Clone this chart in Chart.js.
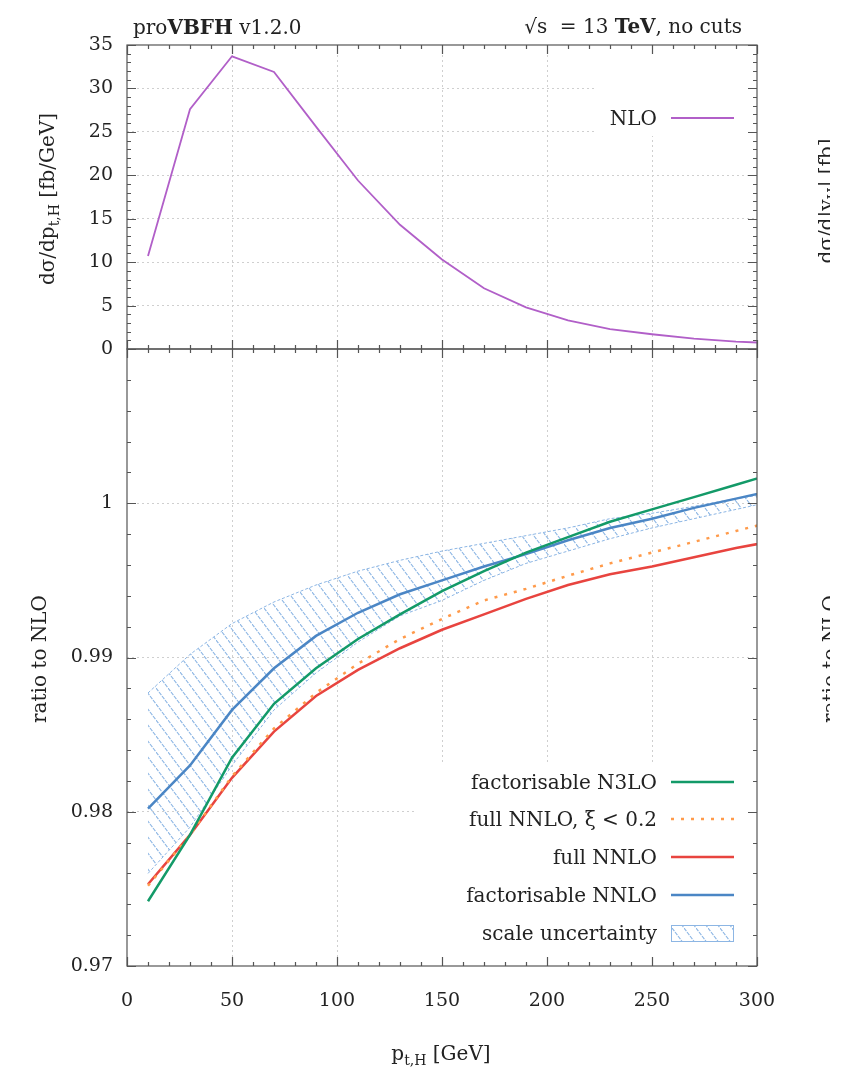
<!DOCTYPE html>
<html>
<head>
<meta charset="utf-8">
<script src="https://cdn.jsdelivr.net/npm/chart.js"></script>
<style>
  body { margin: 0; background: #fff; }
  #wrap { width: 848px; height: 1068px; }
</style>
</head>
<body>
<div id="wrap"><canvas id="myChart" width="848" height="1068"></canvas></div>
<script>
// Centros de bin en p_t,H [GeV]
const ptH = [10, 30, 50, 70, 90, 110, 130, 150, 170, 190, 210, 230, 250, 270, 290, 310];

// Panel superior: dσ/dp_t,H a NLO [fb/GeV]
const nlo = [10.7, 27.6, 33.7, 31.9, 25.6, 19.4, 14.3, 10.3, 7.0, 4.8, 3.3, 2.3, 1.7, 1.2, 0.85, 0.65];

// Panel inferior: cociente respecto a NLO
const fact_N3LO = [0.9742, 0.9785, 0.9835, 0.9870, 0.9893, 0.9912, 0.9928, 0.9943, 0.9956, 0.9968, 0.9978, 0.9988, 0.9996, 1.0004, 1.0012, 1.0020];
const full_NNLO_xi = [0.9752, 0.9785, 0.9823, 0.9854, 0.9877, 0.9896, 0.9912, 0.9925, 0.9937, 0.99445, 0.9953, 0.9961, 0.9968, 0.9975, 0.9982, 0.9989];
const full_NNLO = [0.9753, 0.9785, 0.9822, 0.9852, 0.9875, 0.9892, 0.9906, 0.9918, 0.9928, 0.9938, 0.9947, 0.9954, 0.9959, 0.9965, 0.9971, 0.9976];
const fact_NNLO = [0.9802, 0.9830, 0.9866, 0.9893, 0.9914, 0.9929, 0.9941, 0.9950, 0.9959, 0.9967, 0.9976, 0.9984, 0.9990, 0.9997, 1.0003, 1.0009];

// Banda de incertidumbre de escala (factorisable NNLO)
const scale_up = [0.9877, 0.9902, 0.9922, 0.9936, 0.9947, 0.9956, 0.9963, 0.9969, 0.9974, 0.9979, 0.9984, 0.9990, 0.99935, 0.9998, 1.0003, 1.0007];
const scale_down = [0.9760, 0.9790, 0.9830, 0.9866, 0.9890, 0.9910, 0.9927, 0.9937, 0.9950, 0.9961, 0.9969, 0.9977, 0.9984, 0.9990, 0.9996, 1.0002];

// Rangos de los ejes
const rangoX = [0, 300];
const rangoSup = [0, 35];
const rangoInf = [0.97, 1.01];

const serif = "'DejaVu Serif', serif";
const colores = {
  nlo: "#b15fc8",
  n3lo: "#139a68",
  xi: "#ff9a4a",
  nnlo: "#e8443f",
  fact: "#4b86c5",
  banda: "#8db6e4",
};

const toXY = (ys) => ptH.map((x, i) => ({ x, y: ys[i] }));

const ctx = document.getElementById("myChart").getContext("2d");

// Rayado diagonal para la banda
function rayado(color) {
  const c = document.createElement("canvas");
  c.width = 12;
  c.height = 16;
  const g = c.getContext("2d");
  g.strokeStyle = color;
  g.lineWidth = 1.1;
  g.setLineDash([4, 1]);
  g.beginPath();
  g.moveTo(-3, -4);
  g.lineTo(15, 20);
  g.stroke();
  return ctx.createPattern(c, "repeat");
}
const patronBanda = rayado(colores.banda);

// Texto con trozos (normal, negrita, subindice)
function texto(c, partes, x, y, align) {
  let total = 0;
  partes.forEach((p) => {
    c.font = p[1];
    total += c.measureText(p[0]).width;
  });
  let cx = align === "right" ? x - total : align === "center" ? x - total / 2 : x;
  c.textAlign = "left";
  c.textBaseline = "alphabetic";
  partes.forEach((p) => {
    c.font = p[1];
    c.fillText(p[0], cx, y + (p[2] || 0));
    cx += c.measureText(p[0]).width;
  });
}

function textoVertical(c, partes, x, y) {
  c.save();
  c.translate(x, y);
  c.rotate(-Math.PI / 2);
  texto(c, partes, 0, 0, "center");
  c.restore();
}

const f20 = "20px " + serif;
const f20b = "bold 20px " + serif;
const f14 = "14px " + serif;

const tituloSup = [["dσ/dp", f20], ["t,H", f14, 5], [" [fb/GeV]", f20]];
const tituloInf = [["ratio to NLO", f20]];
const tituloSupVecino = [["dσ/d|y", f20], ["H", f14, 5], ["| [fb]", f20]];

// Leyendas, marcos y marcas de los ejes
const decoracion = {
  id: "decoracion",
  afterDatasetsDraw(chart) {
    const c = chart.ctx;
    const ds = chart.data.datasets;
    c.save();
    // leyenda panel superior
    c.fillStyle = "#fff";
    c.fillRect(596, 46, 160, 90);
    // leyenda panel inferior
    c.fillRect(415, 762, 341, 203);
    c.fillStyle = "#222";
    const muestra = (d, y) => {
      c.save();
      c.strokeStyle = d.borderColor;
      c.lineWidth = d.borderWidth;
      c.setLineDash(d.borderDash || []);
      c.beginPath();
      c.moveTo(671, y);
      c.lineTo(734, y);
      c.stroke();
      c.restore();
    };
    texto(c, [["NLO", f20]], 657, 125, "right");
    muestra(ds[0], 118);

    const filas = [782, 819, 857, 895];
    [1, 2, 3, 4].forEach((k, i) => {
      c.fillStyle = "#222";
      texto(c, [[ds[k].label, f20]], 657, filas[i] + 7, "right");
      muestra(ds[k], filas[i]);
    });
    c.fillStyle = "#222";
    texto(c, [["scale uncertainty", f20]], 657, 940, "right");
    c.fillStyle = patronBanda;
    c.fillRect(671, 925, 63, 17);
    c.strokeStyle = colores.banda;
    c.lineWidth = 1;
    c.strokeRect(671.5, 925.5, 62, 16);
    c.restore();
  },
  afterDraw(chart) {
    const c = chart.ctx;
    const sx = chart.scales.x;
    const paneles = [
      { s: chart.scales.yTop, menor: 1, mayor: 5 },
      { s: chart.scales.yBot, menor: 0.002, mayor: 0.01 },
    ];
    c.save();
    c.strokeStyle = "#555";
    c.lineWidth = 1.2;
    paneles.forEach(({ s, menor, mayor }) => {
      const top = s.top, bot = s.bottom;
      const L = chart.chartArea.left, R = chart.chartArea.right;
      c.strokeRect(L, top, R - L, bot - top);
      c.beginPath();
      // marcas en x (hacia dentro)
      for (let v = rangoX[0]; v <= rangoX[1]; v += 10) {
        const px = Math.round(sx.getPixelForValue(v)) + 0.5;
        const len = v % 50 === 0 ? 9 : 4;
        c.moveTo(px, top); c.lineTo(px, top + len);
        c.moveTo(px, bot); c.lineTo(px, bot - len);
      }
      // marcas en y
      const n = Math.round((s.max - s.min) / menor);
      for (let k = 0; k <= n; k++) {
        const v = s.min + k * menor;
        const py = Math.round(s.getPixelForValue(v)) + 0.5;
        const q = (v - s.min) / mayor;
        const len = Math.abs(q - Math.round(q)) < 1e-6 ? 9 : 4;
        c.moveTo(L, py); c.lineTo(L + len, py);
        c.moveTo(R, py); c.lineTo(R - len, py);
      }
      c.stroke();
    });

    // textos de cabecera y titulos de ejes
    c.fillStyle = "#222";
    texto(c, [["pro", f20], ["VBFH", f20b], [" v1.2.0", f20]], 133, 34, "left");
    texto(c, [["√s  = 13 ", f20], ["TeV", f20b], [", no cuts", f20]], 742, 33, "right");
    textoVertical(c, tituloSup, 54, 199);
    textoVertical(c, tituloInf, 46, 659);
    texto(c, [["p", f20], ["t,H", f14, 5], [" [GeV]", f20]], 441, 1060, "center");

    // borde de la figura vecina, recortado
    c.beginPath();
    c.rect(790, 0, 40, 1068);
    c.clip();
    textoVertical(c, tituloSupVecino, 833, 201);
    textoVertical(c, tituloInf, 837, 659);
    c.restore();
  },
};

const gridColor = (cx) =>
  cx.index === 0 || cx.index === cx.scale.ticks.length - 1 ? "rgba(0,0,0,0)" : "#cfcfcf";

const lineaComun = {
  pointRadius: 0,
  tension: 0,
  fill: false,
};

const fuenteTicks = { family: serif, size: 19 };

new Chart(ctx, {
  type: "line",
  data: {
    datasets: [
      {
        ...lineaComun,
        label: "NLO",
        data: toXY(nlo),
        borderColor: colores.nlo,
        borderWidth: 1.8,
        yAxisID: "yTop",
      },
      {
        ...lineaComun,
        label: "factorisable N3LO",
        data: toXY(fact_N3LO),
        borderColor: colores.n3lo,
        borderWidth: 2.5,
        yAxisID: "yBot",
        order: 1,
      },
      {
        ...lineaComun,
        label: "full NNLO, ξ < 0.2",
        data: toXY(full_NNLO_xi),
        borderColor: colores.xi,
        borderWidth: 2.5,
        borderDash: [3, 7],
        yAxisID: "yBot",
        order: 2,
      },
      {
        ...lineaComun,
        label: "full NNLO",
        data: toXY(full_NNLO),
        borderColor: colores.nnlo,
        borderWidth: 2.5,
        yAxisID: "yBot",
        order: 3,
      },
      {
        ...lineaComun,
        label: "factorisable NNLO",
        data: toXY(fact_NNLO),
        borderColor: colores.fact,
        borderWidth: 2.5,
        yAxisID: "yBot",
        order: 1,
      },
      {
        ...lineaComun,
        label: "scale uncertainty",
        data: toXY(scale_up),
        borderColor: colores.banda,
        borderWidth: 1,
        borderDash: [3, 2],
        backgroundColor: patronBanda,
        fill: "+1",
        yAxisID: "yBot",
        order: 10,
      },
      {
        ...lineaComun,
        label: "scale uncertainty (low)",
        data: toXY(scale_down),
        borderColor: colores.banda,
        borderWidth: 1,
        borderDash: [3, 2],
        yAxisID: "yBot",
        order: 10,
      },
    ],
  },
  options: {
    responsive: false,
    animation: false,
    layout: { padding: { left: 0, right: 91, top: 45, bottom: 0 } },
    plugins: {
      legend: { display: false },
      tooltip: { enabled: false },
    },
    scales: {
      x: {
        type: "linear",
        min: rangoX[0],
        max: rangoX[1],
        ticks: { stepSize: 50, padding: 24, color: "#222", font: fuenteTicks, maxRotation: 0, autoSkip: false },
        grid: { color: gridColor, drawTicks: false },
        border: { display: false, dash: [2, 3] },
        afterFit: (s) => { s.height = 102; },
      },
      yBot: {
        type: "linear",
        position: "left",
        stack: "paneles",
        stackWeight: 617,
        min: rangoInf[0],
        max: rangoInf[1],
        ticks: {
          stepSize: 0.01,
          padding: 14,
          color: "#222",
          autoSkip: false,
          font: fuenteTicks,
          callback: (v) => (Math.abs(v - rangoInf[1]) < 1e-9 ? "" : String(+v.toFixed(2))),
        },
        grid: { color: gridColor, drawTicks: false },
        border: { display: false, dash: [2, 3] },
        afterFit: (s) => { s.width = 127; },
      },
      yTop: {
        type: "linear",
        position: "left",
        stack: "paneles",
        stackWeight: 304,
        min: rangoSup[0],
        max: rangoSup[1],
        ticks: { stepSize: 5, padding: 14, color: "#222", autoSkip: false, font: fuenteTicks },
        grid: { color: gridColor, drawTicks: false },
        border: { display: false, dash: [2, 3] },
        afterFit: (s) => { s.width = 127; },
      },
    },
  },
  plugins: [decoracion],
});
</script>
</body>
</html>
